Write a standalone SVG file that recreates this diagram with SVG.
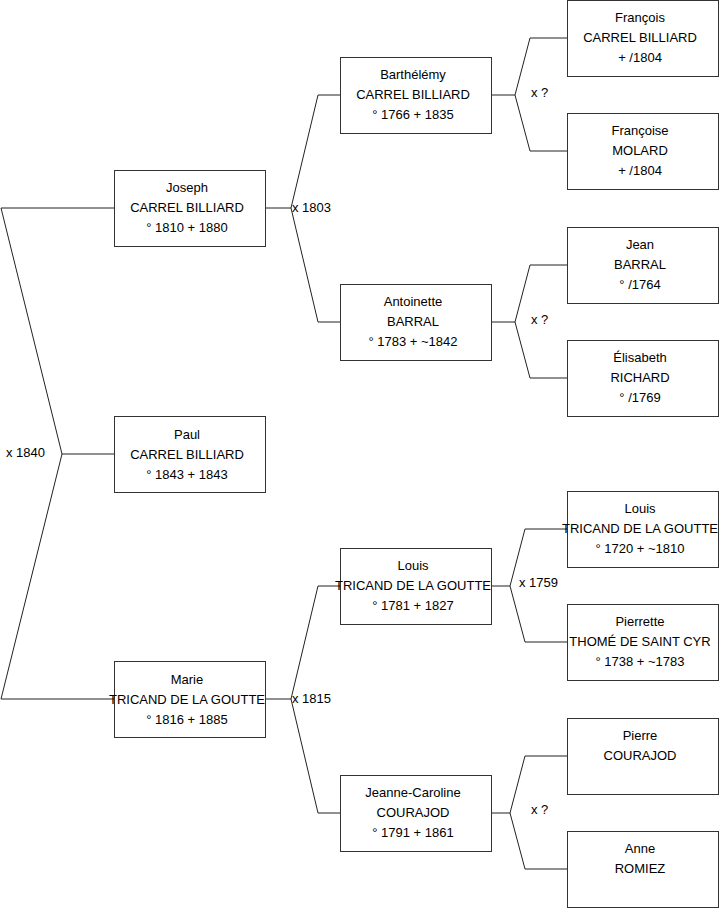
<svg xmlns="http://www.w3.org/2000/svg" width="719" height="908" viewBox="0 0 719 908">
<style>
.box{fill:#fff;stroke:#333;stroke-width:1}
.c{fill:none;stroke:#222;stroke-width:1}
text{font-family:"Liberation Sans",Arial,sans-serif;font-size:13px;fill:#000}
.m{text-anchor:middle}
</style>
<rect width="719" height="908" fill="#fff"/>
<g id="connectors">
<path class="c" d="M1,208 H114 M1,208 L62,454 L1,699 H114 M62,454 H114"/>
<path class="c" d="M265,208 H291 M340,95 H318 L291,208 L318,322 H340"/>
<path class="c" d="M265,699 H291 M340,586 H318 L291,699 L318,813 H340"/>
<path class="c" d="M491,95 H515 M567,38 H530 L515,95 L530,151 H567"/>
<path class="c" d="M491,322 H515 M567,265 H530 L515,322 L530,378 H567"/>
<path class="c" d="M491,586 H510 M567,529 H525 L510,586 L525,642 H567"/>
<path class="c" d="M491,813 H510 M567,756 H525 L510,813 L525,869 H567"/>
<text x="6" y="457">x 1840</text>
<text x="292" y="212">x 1803</text>
<text x="292" y="703">x 1815</text>
<text x="531" y="97">x ?</text>
<text x="531" y="324">x ?</text>
<text x="519" y="587">x 1759</text>
<text x="531" y="814">x ?</text>
</g>
<g id="joseph"><rect class="box" x="114.5" y="170.5" width="151" height="76"/><text class="m" x="187" y="192">Joseph</text><text class="m" x="187" y="212">CARREL BILLIARD</text><text class="m" x="187" y="232">° 1810 + 1880</text></g>
<g id="paul"><rect class="box" x="114.5" y="416.5" width="151" height="76"/><text class="m" x="187" y="439">Paul</text><text class="m" x="187" y="459">CARREL BILLIARD</text><text class="m" x="187" y="479">° 1843 + 1843</text></g>
<g id="marie"><rect class="box" x="114.5" y="661.5" width="151" height="76"/><text class="m" x="187" y="684">Marie</text><text class="m" x="187" y="704">TRICAND DE LA GOUTTE</text><text class="m" x="187" y="724">° 1816 + 1885</text></g>
<g id="barthelemy"><rect class="box" x="340.5" y="57.5" width="151" height="76"/><text class="m" x="413" y="79">Barthélémy</text><text class="m" x="413" y="99">CARREL BILLIARD</text><text class="m" x="413" y="119">° 1766 + 1835</text></g>
<g id="antoinette"><rect class="box" x="340.5" y="284.5" width="151" height="76"/><text class="m" x="413" y="306">Antoinette</text><text class="m" x="413" y="326">BARRAL</text><text class="m" x="413" y="346">° 1783 + ~1842</text></g>
<g id="louis2"><rect class="box" x="340.5" y="548.5" width="151" height="76"/><text class="m" x="413" y="570">Louis</text><text class="m" x="413" y="590">TRICAND DE LA GOUTTE</text><text class="m" x="413" y="610">° 1781 + 1827</text></g>
<g id="jeanne"><rect class="box" x="340.5" y="775.5" width="151" height="76"/><text class="m" x="413" y="797">Jeanne-Caroline</text><text class="m" x="413" y="817">COURAJOD</text><text class="m" x="413" y="837">° 1791 + 1861</text></g>
<g id="francois"><rect class="box" x="567.5" y="0.5" width="151" height="76"/><text class="m" x="640" y="22">François</text><text class="m" x="640" y="42">CARREL BILLIARD</text><text class="m" x="640" y="62">+ /1804</text></g>
<g id="francoise"><rect class="box" x="567.5" y="113.5" width="151" height="76"/><text class="m" x="640" y="135">Françoise</text><text class="m" x="640" y="155">MOLARD</text><text class="m" x="640" y="175">+ /1804</text></g>
<g id="jean"><rect class="box" x="567.5" y="227.5" width="151" height="76"/><text class="m" x="640" y="249">Jean</text><text class="m" x="640" y="269">BARRAL</text><text class="m" x="640" y="289">° /1764</text></g>
<g id="elisabeth"><rect class="box" x="567.5" y="340.5" width="151" height="76"/><text class="m" x="640" y="362">Élisabeth</text><text class="m" x="640" y="382">RICHARD</text><text class="m" x="640" y="402">° /1769</text></g>
<g id="louis3"><rect class="box" x="567.5" y="491.5" width="151" height="76"/><text class="m" x="640" y="513">Louis</text><text class="m" x="640" y="533">TRICAND DE LA GOUTTE</text><text class="m" x="640" y="553">° 1720 + ~1810</text></g>
<g id="pierrette"><rect class="box" x="567.5" y="604.5" width="151" height="76"/><text class="m" x="640" y="626">Pierrette</text><text class="m" x="640" y="646">THOMÉ DE SAINT CYR</text><text class="m" x="640" y="666">° 1738 + ~1783</text></g>
<g id="pierre"><rect class="box" x="567.5" y="718.5" width="151" height="76"/><text class="m" x="640" y="740">Pierre</text><text class="m" x="640" y="760">COURAJOD</text></g>
<g id="anne"><rect class="box" x="567.5" y="831.5" width="151" height="76"/><text class="m" x="640" y="853">Anne</text><text class="m" x="640" y="873">ROMIEZ</text></g>
</svg>
